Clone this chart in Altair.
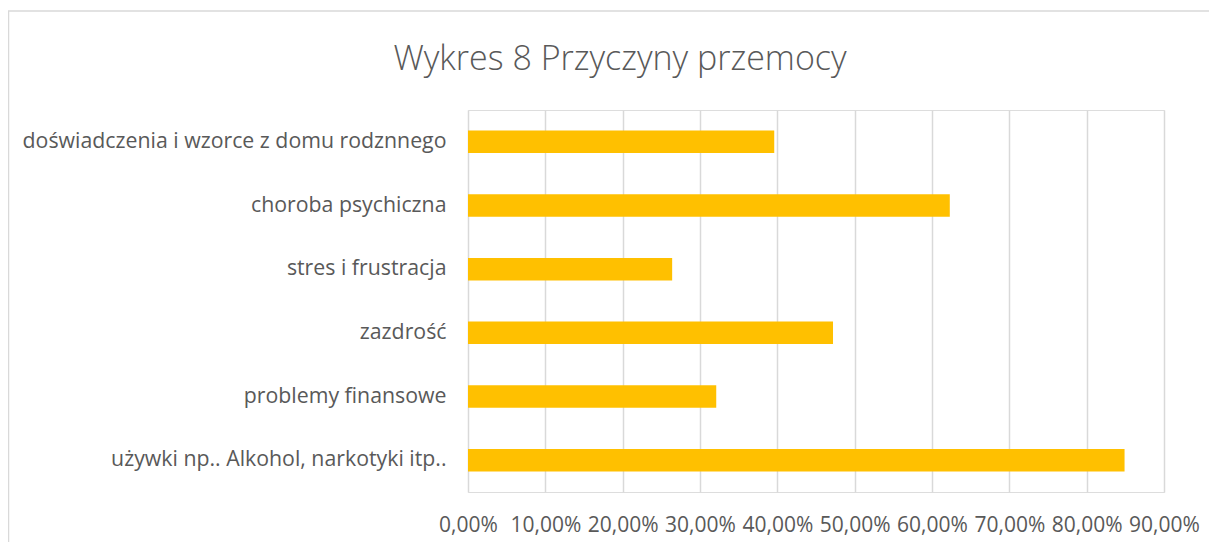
import altair as alt
import pandas as pd

NB = "\u00a0"
categories = [
    "doświadczenia i wzorce z domu rodznnego" + NB,
    "choroba psychiczna" + NB,
    "stres i frustracja",
    "zazdrość" + NB,
    "problemy finansowe" + NB,
    "używki np.. Alkohol, narkotyki itp..",
]
values = [0.396, 0.623, 0.264, 0.472, 0.321, 0.849]
x_ticks = [0, 0.1, 0.2, 0.3, 0.4, 0.5, 0.6, 0.7, 0.8, 0.9]
title_text = "Wykres 8 Przyczyny przemocy"

df = pd.DataFrame({"kategoria": categories, "wartosc": values})

FONT = "Open Sans"
GRAY = "#595959"

bars = alt.Chart(df).mark_bar(color="#FFC000").encode(
    x=alt.X(
        "wartosc:Q",
        scale=alt.Scale(domain=[0, 0.9], nice=False, zero=True),
        axis=alt.Axis(
            values=x_ticks,
            title=None,
            domain=False,
            ticks=False,
            grid=True,
            gridColor="#D9D9D9",
            gridWidth=1.5,
            labelFont=FONT,
            labelFontSize=21,
            labelColor=GRAY,
            labelPadding=22,
            labelFlush=False,
            labelOverlap=False,
            labelExpr="replace(format(datum.value, '.2%'), '.', ',')",
        ),
    ),
    y=alt.Y(
        "kategoria:N",
        sort=categories,
        scale=alt.Scale(paddingInner=0.646, paddingOuter=0.323),
        axis=alt.Axis(
            title=None,
            domain=False,
            ticks=False,
            grid=False,
            labelFont=FONT,
            labelFontSize=21.3,
            labelColor=GRAY,
            labelPadding=22,
            labelLimit=0,
        ),
    ),
)

border = alt.Chart(pd.DataFrame({"a": [0]})).mark_rect(
    fill=None, stroke="#D9D9D9", strokeWidth=1.5, clip=False
).encode(
    x=alt.value(-459.5),
    x2=alt.value(780),
    y=alt.value(-99),
    y2=alt.value(460),
)

title = alt.Chart(pd.DataFrame({"t": [title_text]})).mark_text(
    font=FONT,
    fontSize=34,
    fontWeight=300,
    color=GRAY,
    align="center",
    baseline="alphabetic",
).encode(
    text="t:N",
    x=alt.value(152),
    y=alt.value(-40),
)

chart = alt.layer(border, bars, title).properties(
    width=696,
    height=382,
    padding={"left": 460, "top": 102, "right": 45, "bottom": 50},
    autosize=alt.AutoSizeParams(type="none"),
).configure_view(stroke=None).configure(background="white")

chart.save("out.html", embed_options={"renderer": "svg", "actions": False})
